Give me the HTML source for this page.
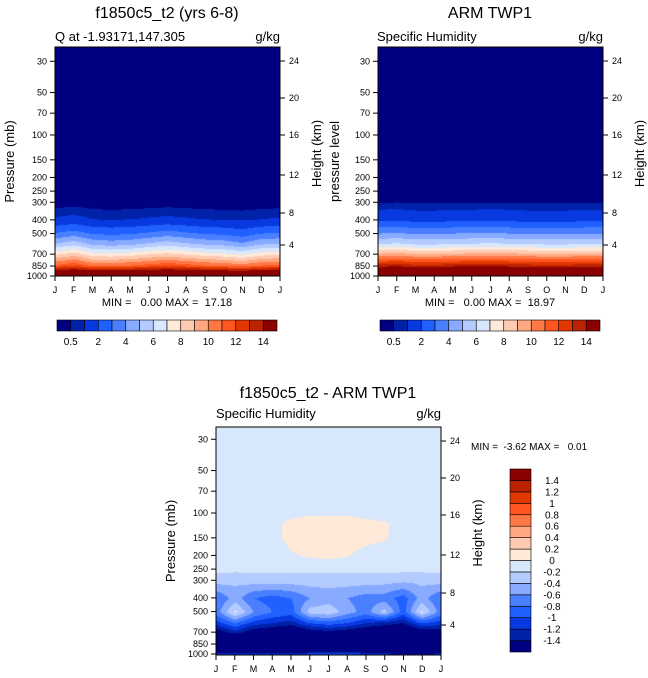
<!DOCTYPE html>
<html><head><meta charset="utf-8"><style>
body{margin:0;background:#fff;width:648px;height:678px;overflow:hidden;position:relative;font-family:"Liberation Sans",sans-serif}
canvas{position:absolute}
svg{position:absolute;left:0;top:0}
text{white-space:pre}
</style></head><body>
<canvas id="c1" style="left:55px;top:47px" width="225" height="229"></canvas>
<canvas id="c2" style="left:378px;top:47px" width="225" height="229"></canvas>
<canvas id="c3" style="left:216px;top:427px" width="225" height="228"></canvas>
<svg id="s" width="648" height="678"></svg>
<script>
const months=["J","F","M","A","M","J","J","A","S","O","N","D","J"];
const levA=[1000,925,850,700,600,500,400,300,250,200,100,30];
const qModel=[
[17,17.2,16.8,16.9,17,17.1,17.2,17.1,17,16.9,16.8,17,17],
[14.5,14.8,14.2,14.2,14.4,14.6,14.8,14.6,14.4,14.2,14.0,14.4,14.5],
[11.2,11.8,10.8,10.8,11.0,11.4,11.8,11.4,11.0,10.8,10.4,11.0,11.2],
[7.6,8.3,7.2,7.1,7.3,7.8,8.1,7.7,7.3,7.1,6.7,7.4,7.6],
[5.1,5.7,4.8,4.6,4.8,5.2,5.6,5.2,4.9,4.7,4.2,4.9,5.1],
[3.0,3.4,2.8,2.7,2.8,3.1,3.4,3.1,2.8,2.7,2.4,2.9,3.0],
[1.1,1.3,1.0,0.95,1.0,1.1,1.2,1.1,1.0,0.95,0.9,1.0,1.1],
[0.15,0.2,0.14,0.12,0.13,0.15,0.18,0.15,0.14,0.12,0.1,0.14,0.15],
[0.08,0.1,0.08,0.08,0.08,0.08,0.09,0.08,0.08,0.08,0.08,0.08,0.08],
[0.04,0.04,0.04,0.04,0.04,0.04,0.04,0.04,0.04,0.04,0.04,0.04,0.04],
[0.01,0.01,0.01,0.01,0.01,0.01,0.01,0.01,0.01,0.01,0.01,0.01,0.01],
[0,0,0,0,0,0,0,0,0,0,0,0,0]];
const qObs=[
[19,19,18.9,18.9,19,19,19,19,19,18.9,18.9,19,19],
[16.2,16.2,16,16,16.2,16.3,16.3,16.2,16.1,16,16,16.2,16.2],
[13.4,13.6,13.3,13.3,13.5,13.6,13.6,13.5,13.4,13.3,13.3,13.5,13.4],
[9,9.2,8.9,8.9,9,9.1,9.2,9.1,9,8.9,8.9,9,9],
[6,6.2,5.9,5.9,6,6.1,6.2,6.1,6,5.9,5.9,6,6],
[3.9,4,3.8,3.8,3.9,4,4,3.9,3.8,3.8,3.8,3.9,3.9],
[1.7,1.8,1.6,1.6,1.7,1.7,1.8,1.7,1.6,1.6,1.6,1.7,1.7],
[0.4,0.45,0.4,0.4,0.4,0.42,0.44,0.42,0.4,0.4,0.4,0.42,0.4],
[0.15,0.16,0.15,0.15,0.15,0.15,0.16,0.15,0.15,0.15,0.15,0.15,0.15],
[0.05,0.05,0.05,0.05,0.05,0.05,0.05,0.05,0.05,0.05,0.05,0.05,0.05],
[0.01,0.01,0.01,0.01,0.01,0.01,0.01,0.01,0.01,0.01,0.01,0.01,0.01],
[0,0,0,0,0,0,0,0,0,0,0,0,0]];
const levB=[1000,925,850,700,600,500,400,300,250,200,150,120,100,70,30];
const qDiff=[
[-1.15,-1.2,-1.05,-1.1,-1.15,-0.95,-0.95,-0.9,-1.05,-1.15,-1.3,-1.3,-1.15],
[-2.2,-2.0,-2.0,-2.1,-2.2,-2.0,-1.9,-1.8,-2.0,-2.1,-2.2,-2.1,-2.2],
[-2.6,-2.5,-2.5,-2.6,-2.6,-2.5,-2.4,-2.4,-2.5,-2.6,-2.6,-2.5,-2.6],
[-1.6,-1.3,-1.6,-1.7,-1.8,-1.6,-1.5,-1.6,-1.7,-1.8,-1.9,-1.6,-1.6],
[-1.1,-0.8,-1.1,-1.2,-1.3,-1.0,-0.9,-1.0,-1.2,-1.3,-1.4,-1.0,-1.1],
[-0.7,-0.15,-0.6,-0.8,-0.9,-0.3,-0.25,-0.5,-0.7,-0.3,-0.9,-0.15,-0.7],
[-0.8,-0.5,-0.8,-0.9,-0.8,-0.6,-0.5,-0.6,-0.7,-0.7,-0.9,-0.5,-0.8],
[-0.3,-0.35,-0.3,-0.3,-0.3,-0.3,-0.32,-0.3,-0.3,-0.32,-0.35,-0.35,-0.3],
[-0.15,-0.15,-0.15,-0.15,-0.15,-0.15,-0.15,-0.15,-0.15,-0.15,-0.15,-0.15,-0.15],
[-0.1,-0.1,-0.1,-0.1,-0.02,0.02,0.05,0.01,-0.05,-0.1,-0.1,-0.1,-0.1],
[-0.1,-0.1,-0.1,-0.05,0.05,0.08,0.08,0.06,0.04,0.02,-0.1,-0.1,-0.1],
[-0.1,-0.1,-0.1,-0.05,0.05,0.08,0.08,0.08,0.06,0.04,-0.1,-0.1,-0.1],
[-0.1,-0.1,-0.1,-0.1,-0.05,-0.02,-0.02,-0.02,-0.05,-0.1,-0.1,-0.1,-0.1],
[-0.05,-0.05,-0.05,-0.05,-0.05,-0.05,-0.05,-0.05,-0.05,-0.05,-0.05,-0.05,-0.05],
[-0.02,-0.02,-0.02,-0.02,-0.02,-0.02,-0.02,-0.02,-0.02,-0.02,-0.02,-0.02,-0.02]];
const qLevels=[0.5,1,2,3,4,5,6,7,8,9,10,11,12,13,14];
const qLabels=["0.5","2","4","6","8","10","12","14"];
const dLevels=[-1.4,-1.2,-1,-0.8,-0.6,-0.4,-0.2,0,0.2,0.4,0.6,0.8,1,1.2,1.4];
const dLabels=["-1.4","-1.2","-1","-0.8","-0.6","-0.4","-0.2","0","0.2","0.4","0.6","0.8","1","1.2","1.4"];
const cmap=["#000080","#0022a8","#0838e0","#2060ff","#4a80ff","#88aaff","#b4cbff","#d8e8fc","#ffe9d8","#ffcab2","#ffa882","#ff7846","#ff5520","#e03800","#bb2200","#8b0000"];
const pTicks=[30,50,70,100,150,200,250,300,400,500,700,850,1000];
const hTicks=[4,8,12,16,20,24];
const hY={24:14,20:51,16:88,12:128,8:166,4:198};
const NS="http://www.w3.org/2000/svg";
const svg=document.getElementById('s');
function el(t,a,txt){const e=document.createElementNS(NS,t);for(const k in a)e.setAttribute(k,a[k]);if(txt!==undefined)e.textContent=txt;svg.appendChild(e);return e;}
function hex(c){return[parseInt(c.substr(1,2),16),parseInt(c.substr(3,2),16),parseInt(c.substr(5,2),16)];}
const rgb=cmap.map(hex);
function bin(v,lev){let i=0;while(i<lev.length&&v>=lev[i])i++;return i;}
function drawField(id,levs,data,lev,pBottom,h){
 const cv=document.getElementById(id),ctx=cv.getContext('2d');
 const W=cv.width,H=cv.height,img=ctx.createImageData(W,H);
 const lp=levs.map(p=>Math.log10(p));
 for(let y=0;y<H;y++){
  const p=Math.log10(pBottom)-(H-1-y)/141;
  let k=0;while(k<lp.length-2&&p<lp[k+1])k++;
  let t=(lp[k]-p)/(lp[k]-lp[k+1]);t=Math.max(0,Math.min(1,t));
  for(let x=0;x<W;x++){
   const m=x/(W-1)*12;const i=Math.min(11,Math.floor(m)),u=m-i;
   const a=data[k][i]*(1-u)+data[k][i+1]*u,b=data[k+1][i]*(1-u)+data[k+1][i+1]*u;
   const v=a*(1-t)+b*t;const c=rgb[bin(v,lev)];const o=(y*W+x)*4;
   img.data[o]=c[0];img.data[o+1]=c[1];img.data[o+2]=c[2];img.data[o+3]=255;
  }}
 ctx.putImageData(img,0,0);
}
drawField('c1',levA,qModel,qLevels,1000,229);
drawField('c2',levA,qObs,qLevels,1000,229);
drawField('c3',levB,qDiff,dLevels,1000,228);
function axes(x0,y0,w,h,yB,leftTitle,rightTitle,lOff){
 const r=el('rect',{x:x0,y:y0,width:w,height:h,fill:'none',stroke:'#000','stroke-width':1});
 
 months.forEach((m,i)=>{const x=x0+i*w/12;
  el('line',{x1:x,x2:x,y1:y0+h,y2:y0+h+5,stroke:'#000'});
  const t=el('text',{x:x,y:y0+h+17,'font-size':9,'text-anchor':'middle'},m);
  });
 pTicks.forEach(p=>{const y=yB-141*Math.log10(1000/p);
  el('line',{x1:x0-5,x2:x0,y1:y,y2:y,stroke:'#000'});
  const t=el('text',{x:x0-8,y:y+3,'font-size':9,'text-anchor':'end'},String(p));
  });
 hTicks.forEach(hv=>{const y=y0+hY[hv];
  el('line',{x1:x0+w,x2:x0+w+5,y1:y,y2:y,stroke:'#000'});
  const t=el('text',{x:x0+w+9,y:y+3,'font-size':9},String(hv));
  });
 const lt=el('text',{x:0,y:0,'font-size':13,'text-anchor':'middle',transform:`translate(${x0-lOff},${y0+h/2}) rotate(-90)`},leftTitle);
 
 const rt=el('text',{x:0,y:0,'font-size':13,'text-anchor':'middle',transform:`translate(${x0+w+41},${y0+h/2-8}) rotate(-90)`},rightTitle);
 
}
axes(55,47,225,229,276,'Pressure (mb)','Height (km)',41);
axes(378,47,225,229,276,'pressure level','Height (km)',39);
axes(216,427,225,228,654,'Pressure (mb)','Height (km)',41);
function txt(x,y,s,size,anchor,name){const t=el('text',{x:x,y:y,'font-size':size,'text-anchor':anchor||'start'},s);return t;}
txt(167,18,'f1850c5_t2 (yrs 6-8)',16,'middle','title-model');
txt(55,41,'Q at -1.93171,147.305',13,'start','subtitle-model');
txt(280,41,'g/kg',13,'end','units-model');
txt(490,18,'ARM TWP1',16,'middle','title-obs');
txt(377,41,'Specific Humidity',13,'start','subtitle-obs');
txt(603,41,'g/kg',13,'end','units-obs');
txt(328,398,'f1850c5_t2 - ARM TWP1',16,'middle','title-diff');
txt(216,418,'Specific Humidity',13,'start','subtitle-diff');
txt(441,418,'g/kg',13,'end','units-diff');
txt(167,306,'MIN =   0.00 MAX =  17.18',11,'middle','minmax-model');
txt(490,306,'MIN =   0.00 MAX =  18.97',11,'middle','minmax-obs');
txt(471,450,'MIN =  -3.62 MAX =   0.01',10,'start','minmax-diff');
function hbar(x0,y0){const bw=220/16;
 cmap.forEach((c,i)=>{const r=el('rect',{x:x0+i*bw,y:y0,width:bw,height:11,fill:c,stroke:'#000','stroke-width':0.6});
  });
 qLabels.forEach((l,j)=>{const t=el('text',{x:x0+(2*j+1)*bw,y:y0+25,'font-size':10,'text-anchor':'middle'},l);
  });
}
hbar(57,320);hbar(380,320);
(function(){const x0=510,y0=469,bh=183/16;
 cmap.forEach((c,i)=>{const r=el('rect',{x:x0,y:y0+(15-i)*bh,width:21,height:bh,fill:c,stroke:'#000','stroke-width':0.6});
  });
 dLabels.forEach((l,j)=>{const t=el('text',{x:552,y:y0+(15-j)*bh+3.5,'font-size':10,'text-anchor':'middle'},l);
  });
})();
</script>
</body></html>
